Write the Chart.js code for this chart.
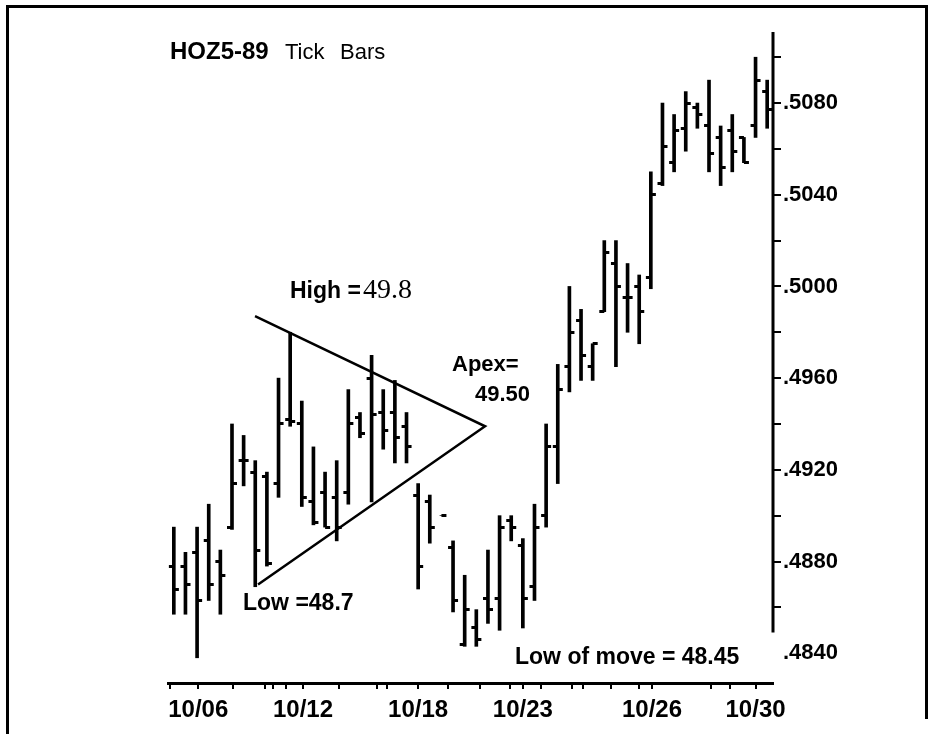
<!DOCTYPE html>
<html lang="en">
<head>
<meta charset="UTF-8">
<title>HOZ5-89 Tick Bars</title>
<style>
  body { margin: 0; background: #fff; }
  .page { position: relative; width: 939px; height: 734px; overflow: hidden; background: #fff; }
  .frame { position: absolute; left: 6px; top: 5px; width: 916px; height: 711px;
           border-top: 3px solid #000; border-left: 3px solid #000; border-right: 3px solid #000; }
  .frame-left { position: absolute; left: 6px; top: 5px; width: 3px; height: 729px; background: #000; }
  canvas { position: absolute; left: 0; top: 0; }
</style>
</head>
<body>
<div class="page">
  <div class="frame"></div>
  <div class="frame-left"></div>
  <canvas id="tickChart" width="939" height="734"></canvas>
</div>

<script src="https://cdn.jsdelivr.net/npm/chart.js"></script>
<script>
// one entry per tick bar, left to right
const highs  = [.4895,.4884,.4895,.4905,.4885,.4940,.4935,.4924,.4919,.4960,.4980,.4950,.4930,.4919,.4924,.4955,.4945,.4970,.4955,.4959,.4945,.4914,.4909,.4900,.4889,.4874,.4859,.4885,.4900,.4900,.4890,.4905,.4940,.4966,.5000,.4990,.4975,.5020,.5020,.5010,.5005,.5050,.5080,.5075,.5085,.5080,.5090,.5070,.5075,.5065,.5100,.5090];
const lows   = [.4857,.4857,.4838,.4863,.4857,.4894,.4913,.4869,.4878,.4908,.4939,.4904,.4896,.4895,.4889,.4905,.4934,.4906,.4929,.4923,.4923,.4868,.4888,.4900,.4858,.4843,.4843,.4853,.4850,.4889,.4851,.4863,.4895,.4914,.4954,.4959,.4959,.4989,.4965,.4980,.4975,.4999,.5044,.5050,.5059,.5069,.5050,.5044,.5050,.5054,.5065,.5069];
const opens  = [.4878,.4878,.4884,.4889,.4880,.4895,.4924,.4919,.4917,.4914,.4942,.4940,.4906,.4910,.4908,.4910,.4943,.4960,.4945,.4945,.4939,.4909,.4906,null ,.4886,.4844,.4851,.4864,.4864,.4898,.4887,.4869,.4900,.4930,.4965,.4985,.4965,.4989,.5010,.4995,.5000,.5004,.5045,.5054,.5069,.5078,.5070,.5065,.5068,.5065,.5070,.5085];
const closes = [.4868,.4870,.4863,.4870,.4874,.4914,.4924,.4885,.4879,.4940,.4941,.4908,.4897,.4895,.4895,.4940,.4936,.4944,.4937,.4934,.4930,.4878,.4895,.4900,.4863,.4859,.4846,.4859,.4895,.4895,.4864,.4895,.4930,.4955,.4980,.4970,.4975,.5015,.5000,.4995,.4989,.5040,.5061,.5068,.5080,.5075,.5058,.5052,.5059,.5054,.5090,.5077];

// triangle drawn on the chart: upper start, apex, lower start (bar index, price)
const triangleX = [6.98, 26.75, 7.24];
const triangleY = [.4987, .4939, .4870];

// date labels on the time axis and the plain tick marks between them
const dateTickAt    = [2.1, 11.1, 21.0, 30.0, 41.1, 50.0];
const dateTickLabel = ['10/06', '10/12', '10/18', '10/23', '10/26', '10/30'];
const minorTickAt   = [-0.3, 5.1, 7.8, 8.5, 9.6, 14.2, 17.5, 18.3, 23.6, 26.3, 28.9, 31.6, 34.2, 35.2, 37.6, 40.0, 46.2, 47.8];

// price axis
const priceLabels = [.4840, .4880, .4920, .4960, .5000, .5040, .5080];
const priceMinor  = [.4860, .4900, .4940, .4980, .5020, .5060, .5100];

const barIndex = highs.map((_, i) => i);

// little horizontal ticks for open (left) and close (right)
function tickImage(side) {
    const c = document.createElement('canvas');
    c.width = 12; c.height = 3;
    const g = c.getContext('2d');
    g.fillStyle = '#000';
    if (side === 'left') g.fillRect(1, 0, 5, 3);
    else g.fillRect(6, 0, 5, 3);
    return c;
}

const FONT = '"Liberation Sans", Arial, sans-serif';

// free text on the picture
const notes = [
    { text: 'HOZ5-89', x: 170, y: 52, font: 'bold 24px ' + FONT },
    { text: 'Tick', x: 285, y: 53, font: '22px ' + FONT },
    { text: 'Bars', x: 340, y: 53, font: '22px ' + FONT },
    { text: 'High =', x: 290, y: 292, font: 'bold 23px ' + FONT },
    { text: '49.8', x: 363, y: 291, font: '28px "Liberation Serif", "Times New Roman", serif' },
    { text: 'Low =48.7', x: 243, y: 604, font: 'bold 23px ' + FONT },
    { text: 'Apex=', x: 452, y: 365, font: 'bold 22px ' + FONT },
    { text: '49.50', x: 475, y: 395, font: 'bold 22px ' + FONT },
    { text: 'Low of move = 48.45', x: 515, y: 658, font: 'bold 23px ' + FONT }
];

const notesPlugin = {
    id: 'notes',
    afterDraw(chart) {
        const ctx = chart.ctx;
        ctx.save();
        ctx.fillStyle = '#000';
        ctx.textAlign = 'left';
        ctx.textBaseline = 'middle';
        notes.forEach(n => {
            ctx.font = n.font;
            ctx.fillText(n.text, n.x, n.y);
        });
        ctx.restore();
    }
};

// the price axis line stops short of the last label
const axisLineEnd = .4849;
const axisLinePlugin = {
    id: 'axisLine',
    afterDraw(chart) {
        const { ctx, chartArea, scales } = chart;
        ctx.save();
        ctx.strokeStyle = '#000';
        ctx.lineWidth = 3;
        ctx.beginPath();
        ctx.moveTo(chartArea.right, chartArea.top);
        ctx.lineTo(chartArea.right, scales.y.getPixelForValue(axisLineEnd));
        ctx.stroke();
        ctx.restore();
    }
};

const ctx = document.getElementById('tickChart').getContext('2d');
new Chart(ctx, {
    type: 'bar',
    data: {
        datasets: [
            {
                type: 'bar',
                data: barIndex.map(i => ({ x: i, y: [lows[i], highs[i]] })),
                backgroundColor: '#000',
                borderWidth: 0,
                barThickness: 3,
                grouped: false
            },
            {
                type: 'scatter',
                data: barIndex.filter(i => opens[i] !== null).map(i => ({ x: i, y: opens[i] })),
                pointStyle: tickImage('left')
            },
            {
                type: 'scatter',
                data: barIndex.map(i => ({ x: i, y: closes[i] })),
                pointStyle: tickImage('right')
            },
            {
                type: 'line',
                data: triangleX.map((x, i) => ({ x: x, y: triangleY[i] })),
                borderColor: '#000',
                borderWidth: 2.5,
                pointRadius: 0,
                tension: 0,
                fill: false
            }
        ]
    },
    options: {
        responsive: false,
        animation: false,
        layout: { padding: { left: 168, top: 32, right: 0, bottom: 0 } },
        plugins: {
            legend: { display: false },
            tooltip: { enabled: false }
        },
        scales: {
            x: {
                type: 'linear',
                position: 'bottom',
                min: -0.5,
                max: 51.5,
                offset: false,
                border: { display: true, color: '#000', width: 3 },
                grid: { offset: false, drawOnChartArea: false, drawTicks: true, tickLength: 6, color: '#000', lineWidth: 2 },
                afterBuildTicks: s => {
                    s.ticks = dateTickAt.concat(minorTickAt).sort((a, b) => a - b).map(v => ({ value: v }));
                },
                afterFit: s => { s.height = 51; },
                ticks: {
                    autoSkip: false,
                    maxRotation: 0,
                    padding: 7,
                    color: '#000',
                    font: { family: FONT, size: 24, weight: 'bold' },
                    callback: v => {
                        const k = dateTickAt.indexOf(v);
                        return k >= 0 ? dateTickLabel[k] : '';
                    }
                }
            },
            y: {
                type: 'linear',
                position: 'right',
                min: .4827,
                max: .5111,
                border: { display: false },
                grid: {
                    drawOnChartArea: false,
                    drawTicks: true,
                    tickLength: 8,
                    lineWidth: 2,
                    color: c => (c.tick && c.tick.value < axisLineEnd) ? 'rgba(0,0,0,0)' : '#000'
                },
                afterBuildTicks: s => {
                    s.ticks = priceLabels.concat(priceMinor).sort((a, b) => a - b).map(v => ({ value: v }));
                },
                afterFit: s => { s.width = 166; },
                ticks: {
                    autoSkip: false,
                    padding: 2,
                    color: '#000',
                    font: { family: FONT, size: 22, weight: 'bold' },
                    callback: v => priceLabels.includes(v) ? v.toFixed(4).slice(1) : ''
                }
            }
        }
    },
    plugins: [notesPlugin, axisLinePlugin]
});
</script>
</body>
</html>
